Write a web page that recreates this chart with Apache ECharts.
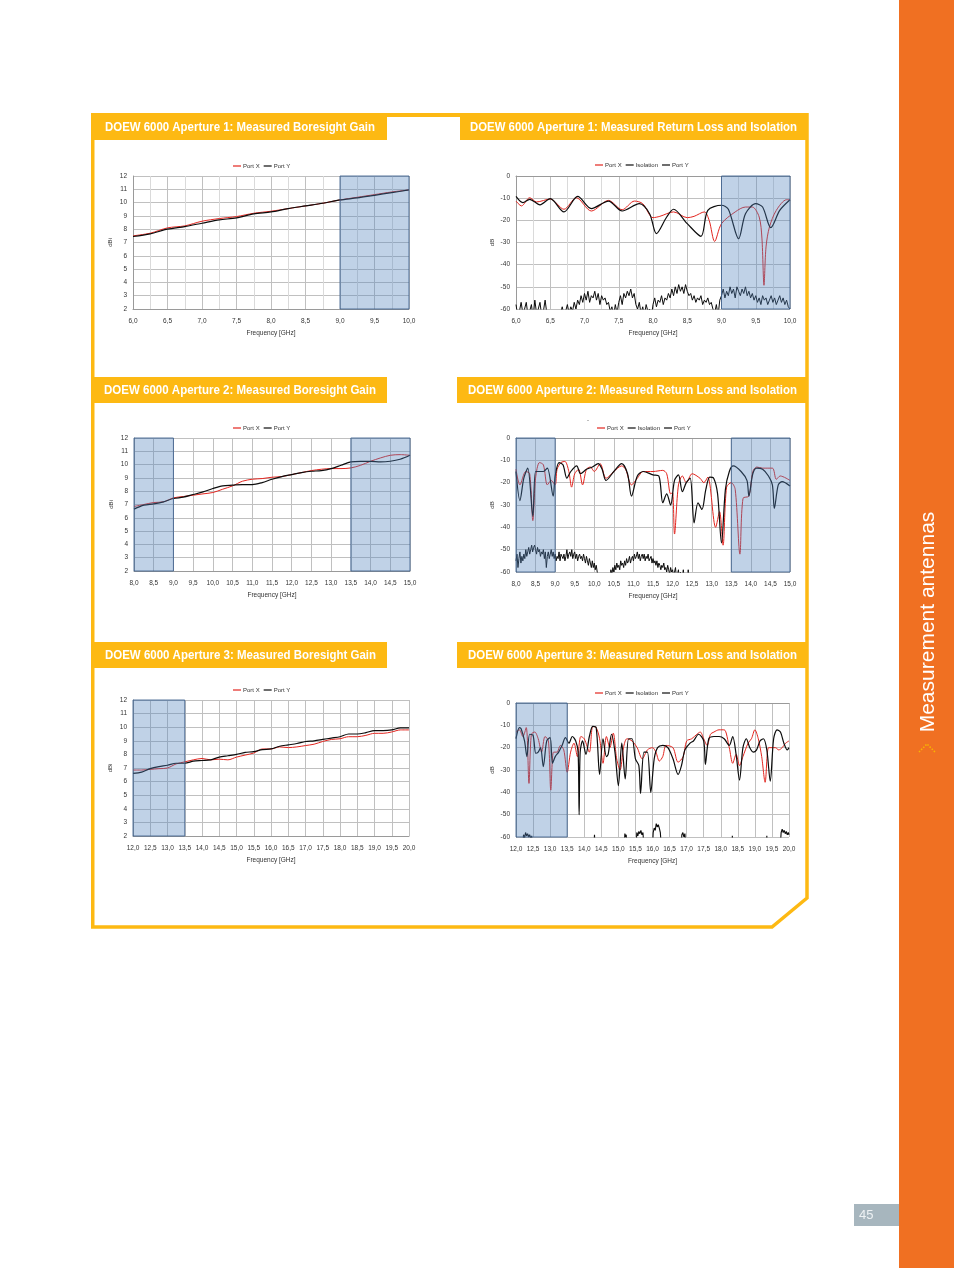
<!DOCTYPE html>
<html><head><meta charset="utf-8">
<script src="https://cdn.jsdelivr.net/npm/echarts@6/dist/echarts.min.js"></script>
<style>html,body{margin:0;padding:0;background:#fff}#c{width:954px;height:1268px}</style>
</head><body><div id="c"></div>
<script>
// ---------------- DATA ----------------
const titles = [
  'DOEW 6000 Aperture 1: Measured Boresight Gain',
  'DOEW 6000 Aperture 1: Measured Return Loss and Isolation',
  'DOEW 6000 Aperture 2: Measured Boresight Gain',
  'DOEW 6000 Aperture 2: Measured Return Loss and Isolation',
  'DOEW 6000 Aperture 3: Measured Boresight Gain',
  'DOEW 6000 Aperture 3: Measured Return Loss and Isolation'
];
const sideLabel = 'Measurement antennas';
const pageNumber = '45';
const xName = 'Frequency [GHz]';

// Aperture 1 gain
const gain1F = [6.0,6.25,6.5,6.75,7.0,7.25,7.5,7.75,8.0,8.25,8.5,8.75,9.0,9.25,9.5,9.75,10.0];
const gain1X = [7.5,7.7,8.1,8.25,8.6,8.8,8.95,9.2,9.35,9.55,9.75,9.95,10.2,10.4,10.6,10.8,10.95];
const gain1Y = [7.45,7.65,8.0,8.2,8.45,8.7,8.85,9.15,9.3,9.55,9.75,9.95,10.2,10.35,10.55,10.75,10.95];
const shade1 = [[9.0,10.0]];

// Aperture 1 return loss / isolation
const rl1XF = [6.0,6.08,6.2,6.3,6.5,6.7,6.88,7.1,7.35,7.55,7.73,7.85,8.0,8.1,8.3,8.5,8.6,8.75,8.82,8.9,9.0,9.2,9.35,9.45,9.55,9.59,9.62,9.65,9.7,9.8,9.95,10.0];
const rl1XV = [-11.3,-13.5,-9.8,-11.7,-10.4,-15,-9.8,-15.8,-11,-15.2,-11.3,-12.5,-18.8,-18.2,-16.2,-18.8,-18.2,-16.2,-20,-29.5,-21.5,-16.2,-14,-14,-18.5,-28,-49.3,-32,-23,-15.5,-10.7,-10.7];
const rl1YF = [6.0,6.1,6.2,6.35,6.5,6.7,6.9,7.1,7.35,7.55,7.8,7.95,8.05,8.2,8.3,8.5,8.7,8.8,9.0,9.1,9.25,9.35,9.5,9.6,9.72,9.85,10.0];
const rl1YV = [-9.2,-12,-10.5,-13,-10.2,-16.2,-9.2,-14.7,-11.3,-15.8,-12.5,-17,-26,-18.5,-15,-21.5,-27.2,-15.5,-13.2,-15,-28.3,-17,-12.5,-14,-23.3,-15.5,-10.7];
const iso1F = [
  6.000,6.025,6.050,6.075,6.100,6.125,6.150,6.175,6.200,6.225,6.250,6.275,6.300,6.325,6.350,6.375,6.400,6.425,6.450,6.475,
  6.500,6.525,6.550,6.575,6.600,6.625,6.650,6.675,6.700,6.725,6.750,6.775,6.800,6.825,6.850,6.875,6.900,6.925,6.950,6.975,
  7.000,7.025,7.050,7.075,7.100,7.125,7.150,7.175,7.200,7.225,7.250,7.275,7.300,7.325,7.350,7.375,7.400,7.425,7.450,7.475,
  7.500,7.525,7.550,7.575,7.600,7.625,7.650,7.675,7.700,7.725,7.750,7.775,7.800,7.825,7.850,7.875,7.900,7.925,7.950,7.975,
  8.000,8.025,8.050,8.075,8.100,8.125,8.150,8.175,8.200,8.225,8.250,8.275,8.300,8.325,8.350,8.375,8.400,8.425,8.450,8.475,
  8.500,8.525,8.550,8.575,8.600,8.625,8.650,8.675,8.700,8.725,8.750,8.775,8.800,8.825,8.850,8.875,8.900,8.925,8.950,8.975,
  9.000,9.025,9.050,9.075,9.100,9.125,9.150,9.175,9.200,9.225,9.250,9.275,9.300,9.325,9.350,9.375,9.400,9.425,9.450,9.475,
  9.500,9.525,9.550,9.575,9.600,9.625,9.650,9.675,9.700,9.725,9.750,9.775,9.800,9.825,9.850,9.875,9.900,9.925,9.950,9.975,
  10.000];
const iso1V = [
  -58,-63,-61,-57,-62,-60,-57,-63,-61,-58,-64,-56,-62,-60,-57,-63,-61,-56,-62,-64,
  -63,-65,-65,-65,-65,-65,-62,-59,-63,-61,-58,-62,-59,-61,-57,-60,-56,-58,-54,-57,
  -53,-56,-52,-57,-54,-55,-52,-56,-53,-58,-54,-56,-55,-58,-57,-61,-59,-63,-58,-62,
  -57,-54,-58,-53,-55,-52,-54,-51,-55,-53,-58,-60,-57,-62,-59,-63,-58,-61,-60,-64,
  -58,-55,-59,-56,-57,-54,-58,-55,-56,-53,-55,-51,-54,-50,-53,-49,-52,-50,-53,-49,
  -52,-54,-53,-56,-54,-57,-55,-56,-54,-58,-56,-57,-55,-58,-57,-60,-62,-58,-63,-56,
  -54,-51,-55,-52,-54,-50,-53,-51,-55,-50,-52,-54,-51,-53,-50,-54,-52,-55,-53,-56,
  -54,-57,-55,-58,-54,-56,-55,-58,-56,-54,-57,-55,-58,-56,-54,-57,-55,-58,-56,-59,
  -60];

// Aperture 2 gain
const gain2F = [8.0,8.25,8.5,8.75,9.0,9.25,9.5,9.75,10.0,10.25,10.5,10.75,11.0,11.25,11.5,11.75,12.0,12.25,12.5,12.75,13.0,13.25,13.5,13.75,14.0,14.25,14.5,14.75,15.0];
const gain2X = [6.85,7.0,7.15,7.2,7.5,7.6,7.7,7.8,7.9,8.15,8.4,8.75,8.9,8.95,9.05,9.1,9.25,9.4,9.55,9.65,9.7,9.7,9.75,9.95,10.25,10.5,10.7,10.75,10.7];
const gain2Y = [6.65,6.95,7.05,7.2,7.45,7.55,7.75,7.95,8.2,8.4,8.45,8.5,8.5,8.65,8.9,9.1,9.25,9.4,9.5,9.55,9.7,9.95,10.2,10.25,10.25,10.2,10.25,10.4,10.7];
const shade2 = [[8.0,9.0],[13.5,15.0]];

// Aperture 2 return loss / isolation
const rl2XF = [8.0,8.1,8.25,8.35,8.43,8.5,8.6,8.7,8.8,8.9,9.0,9.05,9.15,9.25,9.35,9.42,9.5,9.6,9.7,9.8,9.9,10.0,10.15,10.3,10.5,10.7,10.8,10.95,11.1,11.25,11.5,11.75,11.85,11.95,12.0,12.05,12.15,12.25,12.35,12.5,12.7,12.8,12.9,13.1,13.2,13.29,13.38,13.5,13.6,13.72,13.8,13.95,14.05,14.15,14.3,14.55,14.65,14.75,15.0];
const rl2XV = [-14,-21,-15,-16,-37,-18,-11,-12,-21,-19,-21,-14,-11,-10.5,-15,-22,-16,-14,-21,-14,-13,-15,-11.5,-18,-15,-12.5,-14,-21,-18,-15,-15,-14.5,-16,-25,-24.5,-43,-21,-17,-20,-16,-18,-20,-17.5,-40,-33,-48,-22,-20,-23,-52,-27,-26,-15,-13,-13.5,-13.5,-18.5,-17,-19];
const rl2YF = [8.0,8.1,8.2,8.3,8.43,8.5,8.6,8.7,8.8,8.95,9.0,9.1,9.2,9.3,9.4,9.55,9.65,9.8,9.95,10.1,10.2,10.3,10.5,10.7,10.85,10.95,11.1,11.25,11.5,11.65,11.75,11.85,11.95,12.05,12.15,12.25,12.35,12.45,12.55,12.65,12.75,12.85,12.95,13.05,13.15,13.25,13.35,13.45,13.55,13.75,13.9,13.95,14.05,14.15,14.3,14.45,14.55,14.6,14.7,14.8,15.0];
const rl2YV = [-15,-28,-18,-13.5,-35,-15,-15,-15,-13.5,-26,-17,-11,-12,-18,-15,-12.5,-16,-14,-13,-11.5,-14,-19,-15,-11.5,-16,-26,-17,-15,-16.5,-17,-29,-25,-30,-19,-16.5,-24,-20,-18,-38,-29,-32,-23,-17.5,-18,-25,-47,-23,-15,-12.5,-15,-19,-26,-16,-13.5,-14,-17,-21,-31.5,-21,-19.5,-21.5];
const iso2F = [
  8.000,8.025,8.050,8.075,8.100,8.125,8.150,8.175,8.200,8.225,8.250,8.275,8.300,8.325,8.350,8.375,8.400,8.425,8.450,8.475,
  8.500,8.525,8.550,8.575,8.600,8.625,8.650,8.675,8.700,8.725,8.750,8.775,8.800,8.825,8.850,8.875,8.900,8.925,8.950,8.975,
  9.000,9.025,9.050,9.075,9.100,9.125,9.150,9.175,9.200,9.225,9.250,9.275,9.300,9.325,9.350,9.375,9.400,9.425,9.450,9.475,
  9.500,9.525,9.550,9.575,9.600,9.625,9.650,9.675,9.700,9.725,9.750,9.775,9.800,9.825,9.850,9.875,9.900,9.925,9.950,9.975,
  10.000,10.025,10.050,10.075,10.100,10.125,10.150,10.175,10.200,10.225,10.250,10.275,10.300,10.325,10.350,10.375,10.400,10.425,10.450,10.475,
  10.500,10.525,10.550,10.575,10.600,10.625,10.650,10.675,10.700,10.725,10.750,10.775,10.800,10.825,10.850,10.875,10.900,10.925,10.950,10.975,
  11.000,11.025,11.050,11.075,11.100,11.125,11.150,11.175,11.200,11.225,11.250,11.275,11.300,11.325,11.350,11.375,11.400,11.425,11.450,11.475,
  11.500,11.525,11.550,11.575,11.600,11.625,11.650,11.675,11.700,11.725,11.750,11.775,11.800,11.825,11.850,11.875,11.900,11.925,11.950,11.975,
  12.000,12.025,12.050,12.075,12.100,12.125,12.150,12.175,12.200,12.225,12.250,12.275,12.300,12.325,12.350,12.375,12.400,12.425,12.450,12.475,
  12.500];
const iso2V = [
  -55,-52,-58,-54,-51,-56,-53,-55,-52,-54,-50,-53,-51,-49,-52,-50,-48,-51,-49,-48,
  -50,-52,-49,-51,-50,-53,-51,-52,-50,-54,-51,-58,-53,-51,-54,-52,-50,-53,-51,-54,
  -52,-55,-53,-54,-51,-55,-52,-53,-54,-52,-55,-53,-50,-54,-52,-51,-53,-50,-54,-52,
  -51,-54,-52,-55,-53,-52,-54,-53,-55,-52,-54,-56,-53,-55,-57,-54,-56,-58,-55,-58,
  -56,-59,-57,-60,-62,-65,-65,-65,-65,-65,-65,-65,-65,-65,-63,-61,-62,-59,-61,-58,
  -60,-57,-59,-56,-58,-57,-59,-55,-57,-56,-58,-55,-57,-54,-56,-55,-53,-56,-54,-53,
  -55,-52,-54,-53,-51,-54,-52,-55,-53,-52,-54,-52,-55,-53,-54,-52,-55,-54,-53,-56,
  -54,-56,-55,-57,-55,-58,-56,-57,-59,-57,-58,-56,-59,-58,-60,-57,-59,-61,-58,-60,
  -59,-62,-60,-58,-63,-61,-59,-64,-60,-65,-62,-59,-64,-65,-61,-65,-59,-65,-62,-65,
  -65];

// Aperture 3 gain
const gain3F = [12.0,12.25,12.5,12.75,13.0,13.25,13.5,13.75,14.0,14.25,14.5,14.75,15.0,15.25,15.5,15.75,16.0,16.25,16.5,16.75,17.0,17.25,17.5,17.75,18.0,18.25,18.5,18.75,19.0,19.25,19.5,19.75,20.0];
const gain3X = [6.85,6.85,6.9,6.95,7.0,7.3,7.45,7.6,7.7,7.6,7.65,7.6,7.8,7.95,8.1,8.4,8.4,8.55,8.5,8.55,8.65,8.75,8.95,9.1,9.15,9.3,9.3,9.4,9.55,9.55,9.65,9.8,9.8];
const gain3Y = [6.6,6.7,6.95,7.1,7.2,7.35,7.35,7.5,7.55,7.6,7.8,7.9,8.0,8.15,8.2,8.35,8.4,8.6,8.7,8.8,8.95,9.0,9.1,9.2,9.3,9.5,9.5,9.6,9.75,9.75,9.8,9.95,9.95];
const shade3 = [[12.0,13.5]];

// Aperture 3 return loss / isolation
const rl3XF = [12.0,12.1,12.2,12.3,12.38,12.45,12.55,12.65,12.75,12.85,12.95,13.02,13.1,13.2,13.3,13.4,13.5,13.6,13.7,13.8,13.9,14.0,14.15,14.25,14.35,14.45,14.55,14.65,14.75,14.85,14.95,15.05,15.15,15.25,15.4,15.55,15.7,15.85,16.0,16.1,16.2,16.3,16.4,16.6,16.75,16.9,17.0,17.15,17.3,17.4,17.5,17.6,17.7,17.8,17.95,18.1,18.25,18.35,18.45,18.55,18.65,18.8,18.9,19.0,19.1,19.2,19.3,19.4,19.5,19.6,19.7,19.8,19.9,20.0];
const rl3XV = [-13,-12,-15,-11,-36,-14,-13,-16,-22,-15,-17,-39,-22,-22,-19,-21,-31,-22,-18,-24,-15,-16,-22,-10.5,-11,-16,-27,-15,-20,-13.5,-25,-30,-20,-16,-17,-20,-25,-21,-20,-22,-26,-24,-19,-20,-26.5,-24,-17,-16,-14,-13,-16,-19,-14,-13,-12,-12,-20,-27,-23,-28,-24,-18,-16,-12,-16,-24,-35.5,-20,-20,-20,-21,-20,-18,-17];
const rl3YF = [12.0,12.1,12.15,12.25,12.32,12.4,12.5,12.58,12.65,12.72,12.8,12.9,13.0,13.07,13.15,13.25,13.35,13.45,13.55,13.65,13.75,13.82,13.85,13.88,13.95,14.05,14.15,14.25,14.35,14.45,14.55,14.65,14.7,14.8,14.9,15.0,15.1,15.2,15.3,15.4,15.5,15.6,15.65,15.75,15.85,15.95,16.05,16.15,16.3,16.45,16.6,16.75,16.85,16.95,17.1,17.2,17.35,17.5,17.55,17.65,17.8,17.95,18.1,18.25,18.35,18.45,18.55,18.65,18.75,18.85,18.95,19.05,19.15,19.25,19.35,19.45,19.55,19.65,19.75,19.85,19.95,20.0];
const rl3YV = [-16,-11,-11.5,-17,-24,-14,-14.5,-22.5,-22,-20,-28.5,-17,-15.5,-27,-24,-22,-19,-15.5,-18,-15,-17,-22,-50,-22,-17,-23,-15,-10.5,-11,-32,-16,-24,-23,-14,-22,-37,-18,-34,-16,-16,-25,-28,-40.5,-22,-22,-40,-25,-20,-19,-20,-25,-32,-28,-21,-18,-17,-14,-17,-27.5,-16,-15,-15,-16,-19,-15,-23,-34.5,-20,-16,-20,-22,-21,-17,-16,-21,-35,-16,-12,-13,-18,-21,-20];
const iso3F = [12.00,12.20,12.22,12.25,12.28,12.31,12.34,12.37,12.40,12.43,12.46,12.48,
  14.28,14.30,14.32,
  15.17,15.19,15.21,15.23,15.25,
  15.52,15.54,15.57,15.60,15.63,15.66,15.69,15.72,15.75,
  16.00,16.02,16.05,16.08,16.11,16.14,16.17,16.20,16.23,16.26,
  16.84,16.86,16.89,16.92,16.95,16.98,
  18.32,18.34,18.36,
  19.33,19.35,19.37,
  19.74,19.77,19.80,19.83,19.86,19.89,19.92,19.95,19.98,20.00];
const iso3V = [-65,-65,-59,-60.5,-58,-59.5,-58.5,-60,-59,-60.5,-59.5,-65,
  -65,-59,-65,
  -65,-58.5,-60,-59,-65,
  -65,-58,-59.5,-57.5,-58.5,-57,-59,-58,-65,
  -65,-58,-56,-57,-54,-55.5,-54.5,-56,-58,-65,
  -65,-59,-58,-60,-58.5,-65,
  -65,-59.5,-65,
  -65,-59.5,-65,
  -65,-58,-56.5,-58,-57,-58.5,-57.5,-59,-58,-59];

// ---------------- LAYOUT / STYLE ----------------
const YEL = '#FDB913', RED = '#E3251F', BLK = '#0c0c0c';
const FONT = '"Liberation Sans", Arial, sans-serif';
const TFONT = 'bold 13px "Liberation Sans", Arial, sans-serif';
const zip = (f, v) => f.map((x, i) => [x, v[i]]);
const fmt = v => v.toFixed(1).replace('.', ',');

const grids = [
  {left:133, top:176, width:276, height:133},
  {left:516, top:176, width:274, height:133},
  {left:134, top:438, width:276, height:133},
  {left:516, top:438, width:274, height:134},
  {left:133, top:700, width:276, height:136},
  {left:516, top:703, width:273, height:134}
];
const xr = [[6,10,true],[6,10,true],[8,15,false],[8,15,false],[12,20,false],[12,20,false]];
const isGain = [true,false,true,false,true,false];
const shades = [shade1, shade1, shade2, shade2, shade3, shade3];
const legendPos = [[233,163],[595,162],[233,425],[597,425],[233,687],[595,690]];
const titleBoxes = [
  [91,113,296,27, 105,127,270],
  [460,113,348,27, 470,127,327],
  [91,377,296,26, 104,390,272],
  [457,377,351,26, 468,390,329],
  [91,642,296,26, 105,655,271],
  [457,642,351,26, 468,655,329]
];

function textWidth(t) {
  const el = new echarts.graphic.Text({style:{text:t, font:TFONT}});
  return el.getBoundingRect().width;
}

function buildOption() {
  const xAxes = grids.map((g, i) => ({
    type:'value', gridIndex:i, min:xr[i][0], max:xr[i][1], interval:0.5,
    axisLine:{show:true, lineStyle:{color:'#9a9a9a', width:1}},
    axisTick:{show:false},
    splitLine:{show:true, lineStyle:{color:'#c0c0c0', width:1}},
    minorTick:{show:false, splitNumber:2},
    minorSplitLine:{show:xr[i][2], lineStyle:{color:'#dadada', width:1}},
    axisLabel:{fontSize:6.5, color:'#333', margin:9, formatter:fmt, fontFamily:FONT},
    name:xName, nameLocation:'middle', nameGap:21,
    nameTextStyle:{fontSize:6.5, color:'#333', fontFamily:FONT}
  }));
  const yAxes = grids.map((g, i) => ({
    type:'value', gridIndex:i,
    min: isGain[i] ? 2 : -60, max: isGain[i] ? 12 : 0, interval: isGain[i] ? 1 : 10,
    axisLine:{show:true, lineStyle:{color:'#9a9a9a', width:1}},
    axisTick:{show:false},
    splitLine:{show:true, lineStyle:{color:'#c0c0c0', width:1}},
    axisLabel:{fontSize:6.5, color:'#333', margin:6, fontFamily:FONT},
    name: isGain[i] ? 'dBi' : 'dB', nameLocation:'middle', nameGap: isGain[i] ? 20 : 21, nameRotate:90,
    nameTextStyle:{fontSize:6, color:'#333', fontFamily:FONT}
  }));

  function markArea(i) {
    return {
      silent:true, z:6,
      itemStyle:{color:'rgba(79,129,189,0.36)', borderColor:'rgba(60,95,140,0.85)', borderWidth:1},
      data: shades[i].map(s => [{xAxis:s[0]}, {xAxis:s[1]}])
    };
  }
  function line(name, i, data, color, width, extra) {
    return Object.assign({
      name, type:'line', xAxisIndex:i, yAxisIndex:i, data, color,
      showSymbol:false, symbol:'none', smooth:0.3, animation:false,
      lineStyle:{color, width}, itemStyle:{color}
    }, extra || {});
  }

  const series = [
    line('Port X', 0, zip(gain1F, gain1X), RED, 1, {markArea:markArea(0)}),
    line('Port Y', 0, zip(gain1F, gain1Y), BLK, 1.2),
    line('Port X', 1, zip(rl1XF, rl1XV), RED, 1, {markArea:markArea(1)}),
    line('Isolation', 1, zip(iso1F, iso1V), BLK, 1, {smooth:false}),
    line('Port Y', 1, zip(rl1YF, rl1YV), BLK, 1.2),
    line('Port X', 2, zip(gain2F, gain2X), RED, 1, {markArea:markArea(2)}),
    line('Port Y', 2, zip(gain2F, gain2Y), BLK, 1.2),
    line('Port X', 3, zip(rl2XF, rl2XV), RED, 1, {markArea:markArea(3)}),
    line('Isolation', 3, zip(iso2F, iso2V), BLK, 1, {smooth:false}),
    line('Port Y', 3, zip(rl2YF, rl2YV), BLK, 1.2),
    line('Port X', 4, zip(gain3F, gain3X), RED, 1, {markArea:markArea(4)}),
    line('Port Y', 4, zip(gain3F, gain3Y), BLK, 1.2),
    line('Port X', 5, zip(rl3XF, rl3XV), RED, 1, {markArea:markArea(5)}),
    line('Isolation', 5, zip(iso3F, iso3V), BLK, 1.1, {smooth:false}),
    line('Port Y', 5, zip(rl3YF, rl3YV), BLK, 1.2)
  ];

  const legends = grids.map((g, i) => ({
    left:legendPos[i][0], top:legendPos[i][1], padding:0,
    data: isGain[i] ? ['Port X','Port Y'] : ['Port X','Isolation','Port Y'],
    icon:'rect', itemWidth:8, itemHeight:1.2, itemGap:4,
    selectedMode:false,
    textStyle:{fontSize:6, color:'#333', fontFamily:FONT, padding:[0,0,0,-3]}
  }));

  const graphics = [
    {type:'rect', silent:true, shape:{x:899,y:0,width:55,height:1268}, style:{fill:'#F07022'}},
    {type:'text', silent:true, x:928, y:622, rotation:Math.PI/2,
     style:{text:sideLabel, fill:'#ffffff', font:'21px "Liberation Sans", Arial, sans-serif',
            textAlign:'center', textVerticalAlign:'middle', align:'center', verticalAlign:'middle'}},
    {type:'polyline', silent:true, shape:{points:[[919,752],[927,744],[935,752]]},
     style:{stroke:'#F7B500', lineWidth:1.5, fill:null, lineDash:[1.5,1.5]}},
    {type:'rect', silent:true, shape:{x:854,y:1204,width:45,height:22}, style:{fill:'#A7B6BE'}},
    {type:'text', silent:true, x:859, y:1215,
     style:{text:pageNumber, fill:'#eef2f4', font:'13px "Liberation Sans", Arial, sans-serif',
            textAlign:'left', textVerticalAlign:'middle', align:'left', verticalAlign:'middle'}},
    {type:'rect', silent:true, shape:{x:91,y:113,width:717,height:4}, style:{fill:YEL}},
    {type:'polyline', silent:true,
     shape:{points:[[92.75,113],[92.75,927],[772,927],[807,898],[807,113]]},
     style:{stroke:YEL, lineWidth:3.5, fill:null}},
    {type:'text', silent:true, x:588, y:420,
     style:{text:'-', fill:'#555', font:'6px "Liberation Sans", sans-serif',
            textAlign:'center', textVerticalAlign:'middle', align:'center', verticalAlign:'middle'}}
  ];
  titleBoxes.forEach((b, i) => {
    graphics.push({type:'rect', silent:true, shape:{x:b[0],y:b[1],width:b[2],height:b[3]}, style:{fill:YEL}});
    const w = textWidth(titles[i]);
    graphics.push({type:'text', silent:true, x:b[4], y:b[5], scaleX: b[6] / w,
      style:{text:titles[i], fill:'#ffffff', font:TFONT,
             textAlign:'left', textVerticalAlign:'middle', align:'left', verticalAlign:'middle'}});
  });

  return {
    animation:false,
    backgroundColor:'#ffffff',
    textStyle:{fontFamily:FONT},
    grid: grids,
    xAxis: xAxes,
    yAxis: yAxes,
    legend: legends,
    series: series,
    graphic: {elements: graphics}
  };
}

const chart = echarts.init(document.getElementById('c'), null, {renderer:'canvas'});
chart.setOption(buildOption(), true);
if (document.fonts && document.fonts.ready) {
  document.fonts.ready.then(() => chart.setOption(buildOption(), true));
}
</script></body></html>
